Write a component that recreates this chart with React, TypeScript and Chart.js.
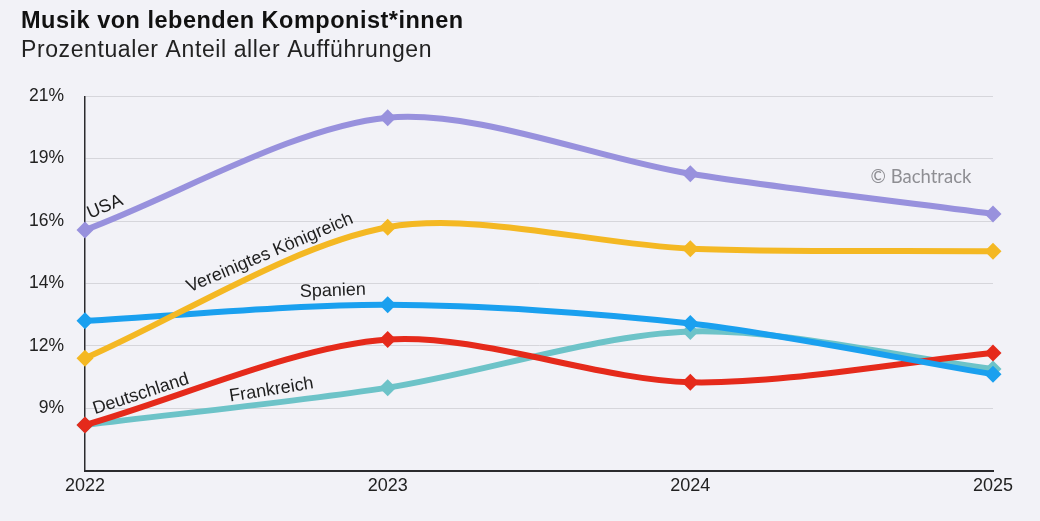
import React, { useEffect, useRef } from 'react';
import { Chart, registerables } from 'chart.js';

Chart.register(...registerables);

// Years on the x axis
const years = ['2022', '2023', '2024', '2025'];

// Share of all performances (%) of music by living composers
const usa = [16.0, 20.2, 18.1, 16.6];
const vereinigtesKoenigreich = [11.2, 16.1, 15.3, 15.2];
const spanien = [12.6, 13.2, 12.5, 10.6];
const deutschland = [8.7, 11.9, 10.3, 11.4];
const frankreich = [8.7, 10.1, 12.2, 10.8];

// Y axis: seven evenly spaced ticks from 7 to 21, labelled rounded
const yTickValues = [7, 28 / 3, 35 / 3, 14, 49 / 3, 56 / 3, 21];
const yTickLabels = ['', '9%', '12%', '14%', '16%', '19%', '21%'];

const TITLE = 'Musik von lebenden Komponist*innen';
const SUBTITLE = 'Prozentualer Anteil aller Aufführungen';
const CREDIT = '© Bachtrack';

const COLORS = {
  usa: '#9891DD',
  uk: '#F4B823',
  es: '#1AA0EF',
  de: '#E52A1B',
  fr: '#6DC3C8',
};

const FONT = '"Liberation Sans", Arial, Helvetica, sans-serif';

// Series name tags, placed in data space (x = category position, y = value)
const seriesTags = [
  { text: 'USA', x: 0.066, y: 16.86, angle: -23 },
  { text: 'Vereinigtes Königreich', x: 0.611, y: 15.14, angle: -23 },
  { text: 'Spanien', x: 0.819, y: 13.72, angle: -2 },
  { text: 'Deutschland', x: 0.185, y: 9.86, angle: -18 },
  { text: 'Frankreich', x: 0.616, y: 10.01, angle: -9 },
];
const creditPos = { x: 2.762, y: 17.98 };

const textPlugin = {
  id: 'chartText',
  afterDraw(chart: any) {
    const { ctx } = chart;
    const xs = chart.scales.x;
    const ys = chart.scales.y;
    ctx.save();
    ctx.textAlign = 'left';
    ctx.textBaseline = 'alphabetic';
    ctx.fillStyle = '#111111';
    ctx.font = `bold 23.5px ${FONT}`;
    (ctx as any).letterSpacing = '0.5px';
    ctx.fillText(TITLE, 21, 27.5);
    ctx.fillStyle = '#222222';
    ctx.font = `23px ${FONT}`;
    (ctx as any).letterSpacing = '0.6px';
    ctx.fillText(SUBTITLE, 21, 57.3);
    (ctx as any).letterSpacing = '0px';

    ctx.font = `18px ${FONT}`;
    ctx.fillStyle = '#1E1E1E';
    ctx.textAlign = 'center';
    ctx.textBaseline = 'middle';
    for (const t of seriesTags) {
      const px = xs.getPixelForValue(t.x);
      const py = ys.getPixelForValue(t.y);
      ctx.save();
      ctx.translate(px, py);
      ctx.rotate((t.angle * Math.PI) / 180);
      ctx.fillText(t.text, 0, 0);
      ctx.restore();
    }

    ctx.font = `18.5px Lato, ${FONT}`;
    ctx.fillStyle = '#8E8E93';
    ctx.fillText(CREDIT, xs.getPixelForValue(creditPos.x), ys.getPixelForValue(creditPos.y));
    ctx.restore();
  },
};

function series(label: string, data: number[], color: string) {
  return {
    label,
    data,
    borderColor: color,
    backgroundColor: color,
    borderWidth: 6,
    pointStyle: 'rectRot',
    pointRadius: 8.5,
    pointHoverRadius: 8.5,
    pointBorderWidth: 0,
    tension: 0.3,
    fill: false,
    clip: false,
  };
}

export default function App() {
  const canvasRef = useRef<HTMLCanvasElement | null>(null);

  useEffect(() => {
    const canvas = canvasRef.current;
    if (!canvas) return;
    const chart = new Chart(canvas, {
      type: 'line',
      data: {
        labels: years,
        datasets: [
          series('USA', usa, COLORS.usa),
          series('Vereinigtes Königreich', vereinigtesKoenigreich, COLORS.uk),
          series('Spanien', spanien, COLORS.es),
          series('Deutschland', deutschland, COLORS.de),
          series('Frankreich', frankreich, COLORS.fr),
        ] as any,
      },
      options: {
        animation: false,
        responsive: true,
        maintainAspectRatio: false,
        events: [],
        layout: { padding: { top: 96.3, right: 47, bottom: 0, left: 0 } },
        plugins: {
          legend: { display: false },
          tooltip: { enabled: false },
          title: { display: false },
        },
        scales: {
          x: {
            type: 'category',
            offset: false,
            grid: { display: false, drawTicks: false },
            border: { display: true, color: '#2B2B2E', width: 2 },
            ticks: {
              color: '#222222',
              font: { family: FONT, size: 18 },
              padding: 5,
              maxRotation: 0,
              autoSkip: false,
            },
            afterFit(scale: any) {
              scale.height = 50.5;
            },
          },
          y: {
            type: 'linear',
            min: 7,
            max: 21,
            grid: { color: '#D6D6DB', lineWidth: 1, drawTicks: false },
            border: { display: true, color: '#2B2B2E', width: 1.5 },
            ticks: {
              color: '#222222',
              font: { family: FONT, size: 17.5 },
              padding: 21,
              callback: (_v: any, i: number) => yTickLabels[i] ?? '',
            },
            afterBuildTicks(scale: any) {
              scale.ticks = yTickValues.map((v) => ({ value: v }));
            },
            afterFit(scale: any) {
              scale.width = 85;
            },
          },
        },
      },
      plugins: [textPlugin],
    } as any);
    return () => chart.destroy();
  }, []);

  return (
    <div
      style={{
        position: 'fixed',
        left: 0,
        top: 0,
        width: 1040,
        height: 521,
        background: '#F2F2F7',
      }}
    >
      <canvas ref={canvasRef} />
    </div>
  );
}
